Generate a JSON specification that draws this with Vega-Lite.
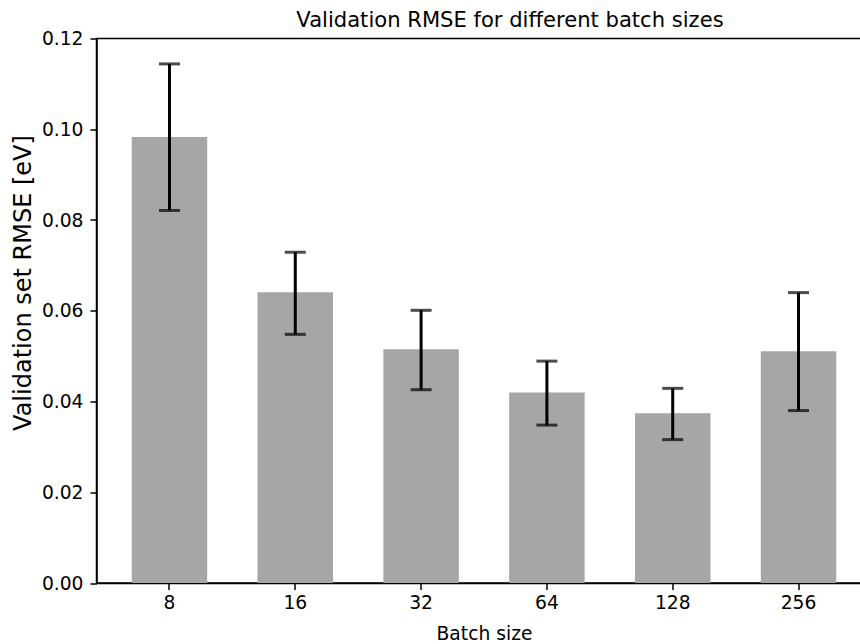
{
  "$schema": "https://vega.github.io/schema/vega-lite/v6.json",
  "autosize": "none",
  "padding": {"left": 96.5, "top": 38.5, "right": -11.5, "bottom": 61},
  "width": 775,
  "height": 544.5,
  "title": {"text": "Validation RMSE for different batch sizes", "font": "DejaVu Sans", "fontSize": 21.1, "fontWeight": "normal", "color": "black", "offset": -2, "dx": 26},
  "data": {"values": [
    {"batch": "8", "rmse": 0.0983, "lo": 0.0821, "hi": 0.1144},
    {"batch": "16", "rmse": 0.0641, "lo": 0.0548, "hi": 0.0729},
    {"batch": "32", "rmse": 0.0515, "lo": 0.0426, "hi": 0.0601},
    {"batch": "64", "rmse": 0.0420, "lo": 0.0348, "hi": 0.0489},
    {"batch": "128", "rmse": 0.0374, "lo": 0.0316, "hi": 0.0429},
    {"batch": "256", "rmse": 0.0511, "lo": 0.0380, "hi": 0.0640}
  ]},
  "encoding": {
    "x": {"field": "batch", "type": "ordinal", "sort": null,
      "scale": {"paddingInner": 0.4, "paddingOuter": 0.28},
      "axis": {"title": "Batch size", "labelAngle": 0, "labelPadding": 4, "titlePadding": 12.5}}
  },
  "layer": [
    {"mark": {"type": "bar", "color": "#a6a6a6"},
     "encoding": {"y": {"field": "rmse", "type": "quantitative",
        "scale": {"domain": [0, 0.12], "nice": false},
        "axis": {"title": "Validation set RMSE [eV]", "titleFontSize": 24, "titleBaseline": "alphabetic", "titleY": 244, "values": [0, 0.02, 0.04, 0.06, 0.08, 0.1, 0.12], "format": ".2f", "labelPadding": 7, "titlePadding": 11}}}},
    {"mark": {"type": "rule", "color": "black", "strokeWidth": 3},
     "encoding": {"y": {"field": "lo", "type": "quantitative"}, "y2": {"field": "hi"}}},
    {"mark": {"type": "tick", "color": "black", "orient": "horizontal", "size": 21, "thickness": 3},
     "encoding": {"y": {"field": "lo", "type": "quantitative"}}},
    {"mark": {"type": "tick", "color": "black", "orient": "horizontal", "size": 21, "thickness": 3},
     "encoding": {"y": {"field": "hi", "type": "quantitative"}}}
  ],
  "config": {
    "font": "DejaVu Sans",
    "view": {"stroke": "black", "strokeWidth": 1.5},
    "axis": {"grid": false, "domainColor": "black", "domainWidth": 1.5, "tickColor": "black", "tickWidth": 1.5, "tickSize": 6.5,
      "labelFont": "DejaVu Sans", "labelFontSize": 18.7, "labelColor": "black",
      "titleFont": "DejaVu Sans", "titleFontSize": 18.7, "titleFontWeight": "normal", "titleColor": "black"}
  }
}
